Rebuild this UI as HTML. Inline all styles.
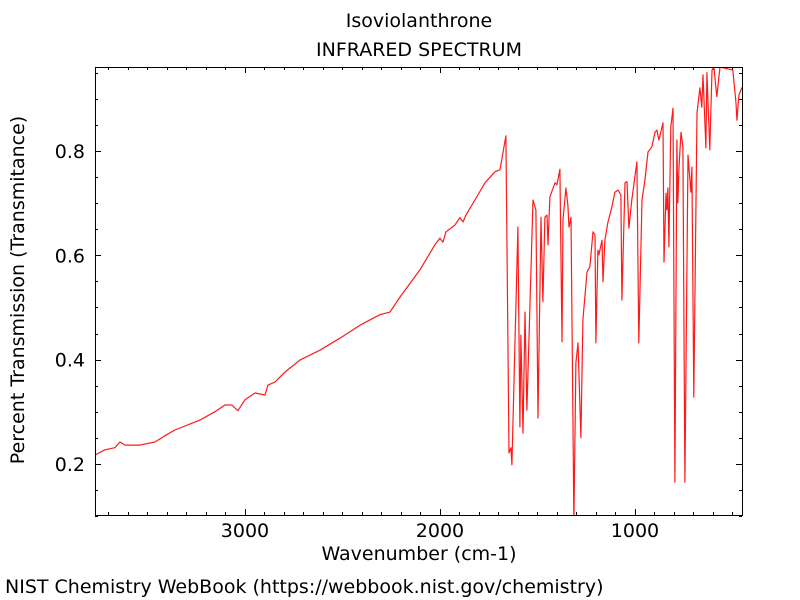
<!DOCTYPE html>
<html><head><meta charset="utf-8">
<style>
body{margin:0;background:#fff;}
svg{display:block;font-family:"DejaVu Sans","Liberation Sans",sans-serif;}
</style></head>
<body>
<svg id="chart" width="800" height="600" viewBox="0 0 800 600" xmlns="http://www.w3.org/2000/svg">
<rect width="800" height="600" fill="#fff"/>
<text x="419" y="27" text-anchor="middle" font-size="19">Isoviolanthrone</text>
<text x="419" y="56" text-anchor="middle" font-size="19">INFRARED SPECTRUM</text>
<text x="419" y="560" text-anchor="middle" font-size="19">Wavenumber (cm-1)</text>
<text transform="translate(24,290) rotate(-90)" text-anchor="middle" font-size="19">Percent Transmission (Transmitance)</text>
<text x="5" y="593" font-size="19">NIST Chemistry WebBook (https://webbook.nist.gov/chemistry)</text>
<g id="axes"></g>
<clipPath id="clip"><rect x="95" y="67" width="647" height="448"/></clipPath>
<path id="line" fill="none" stroke="#ff1a1a" stroke-width="1.2" stroke-linejoin="round" clip-path="url(#clip)"/>
<rect x="95.5" y="67.5" width="647" height="448" fill="none" stroke="#000" stroke-width="1"/>
</svg>
<script>
const wavenumbers = [3769,3718,3667,3641,3615,3538,3462,3410,3359,3231,3154,3103,3067,3036,3000,2949,2897,2882,2846,2795,2718,2615,2513,2410,2308,2256,2205,2103,2026,2000,1985,1969,1923,1898,1882,1867,1821,1769,1718,1692,1662,1646,1636,1631,1600,1590,1585,1574,1564,1554,1523,1508,1497,1482,1472,1462,1451,1446,1436,1410,1400,1385,1374,1369,1354,1344,1338,1328,1313,1303,1292,1277,1267,1246,1231,1215,1205,1200,1190,1185,1169,1164,1154,1139,1118,1103,1087,1072,1067,1051,1041,1031,1016,990,980,964,949,933,913,897,887,877,856,851,841,836,831,826,816,805,795,785,780,774,764,754,744,728,713,708,698,682,667,657,651,636,631,616,605,595,580,564,498,482,477,467,451];
const transmittance = [0.217,0.227,0.231,0.242,0.236,0.236,0.242,0.254,0.265,0.284,0.300,0.313,0.313,0.302,0.323,0.336,0.332,0.351,0.357,0.376,0.399,0.418,0.441,0.466,0.486,0.491,0.520,0.572,0.620,0.633,0.625,0.645,0.658,0.672,0.664,0.677,0.706,0.739,0.760,0.764,0.829,0.221,0.231,0.198,0.654,0.271,0.447,0.259,0.491,0.303,0.706,0.687,0.288,0.673,0.511,0.673,0.677,0.620,0.712,0.739,0.735,0.765,0.434,0.668,0.729,0.696,0.654,0.673,0.09,0.394,0.432,0.250,0.476,0.568,0.578,0.645,0.639,0.432,0.610,0.601,0.629,0.549,0.629,0.662,0.693,0.721,0.725,0.716,0.514,0.739,0.741,0.652,0.706,0.779,0.432,0.706,0.744,0.798,0.808,0.836,0.840,0.821,0.854,0.587,0.719,0.687,0.729,0.616,0.846,0.882,0.165,0.821,0.700,0.769,0.836,0.808,0.165,0.792,0.721,0.769,0.328,0.873,0.921,0.884,0.946,0.806,0.950,0.802,0.955,0.961,0.904,0.961,0.955,0.892,0.859,0.907,0.922];
const xTicks = [3000,2000,1000];
const xTickLabels = ["3000","2000","1000"];
const yTicks = [0.2,0.4,0.6,0.8];
const yTickLabels = ["0.2","0.4","0.6","0.8"];

const X0=95,X1=742,Y0=67,Y1=515;
const WN_L=3769, WN_R=451, T_TOP=0.961, T_BOT=0.102;
function xs(w){return X0+(WN_L-w)/(WN_L-WN_R)*(X1-X0);}
function ys(t){return Y1-(t-T_BOT)/(T_TOP-T_BOT)*(Y1-Y0);}
const NS="http://www.w3.org/2000/svg";
const axes=document.getElementById('axes');
function ln(x1,y1,x2,y2,name){
  const l=document.createElementNS(NS,'line');
  l.setAttribute('x1',x1);l.setAttribute('y1',y1);l.setAttribute('x2',x2);l.setAttribute('y2',y2);
  l.setAttribute('stroke','#000');l.setAttribute('stroke-width','1');
  
  
  axes.appendChild(l);
}
function tx(x,y,s,anchor,name){
  const t=document.createElementNS(NS,'text');
  t.setAttribute('x',x);t.setAttribute('y',y);t.setAttribute('text-anchor',anchor);t.setAttribute('font-size','19');
  t.textContent=s;
  
  
  axes.appendChild(t);
}
for(let w=3700;w>=500;w-=100){
  const x=Math.round(xs(w))+0.5;
  const major=w%1000===0;
  const L=major?6:3;
  ln(x,Y1,x,Y1-L,'x-tick');
  ln(x,Y0,x,Y0+L,'x-tick-top');
}
xTicks.forEach((w,i)=>tx(xs(w),537,xTickLabels[i],'middle','x-tick-label'));
for(let k=2;k<=19;k++){
  const t=k*0.05;
  const y=Math.round(ys(t))+0.5;
  const major=k%4===0;
  const L=major?6:3;
  ln(X0,y,X0+L,y,'y-tick');
  ln(X1,y,X1-L,y,'y-tick-right');
}
yTicks.forEach((t,i)=>tx(85,ys(t)+7,yTickLabels[i],'end','y-tick-label'));
let d='';
wavenumbers.forEach((w,i)=>{d+=(i?'L':'M')+xs(w).toFixed(1)+','+ys(transmittance[i]).toFixed(1);});
document.getElementById('line').setAttribute('d',d);
</script>
</body></html>
